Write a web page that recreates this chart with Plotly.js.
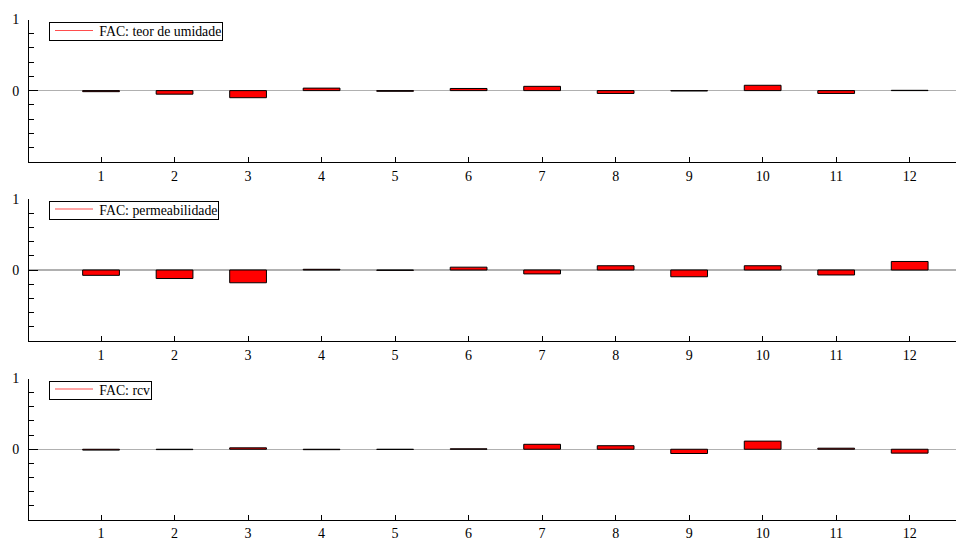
<!DOCTYPE html>
<html>
<head>
<meta charset="utf-8">
<script src="https://cdn.plot.ly/plotly-3.0.1.min.js"></script>
<style>html,body{margin:0;padding:0;background:#fff}#chart{width:956px;height:541px}</style>
</head>
<body>
<div id="chart"></div>
<script>
const lags = [1,2,3,4,5,6,7,8,9,10,11,12];
const xTickLabels = ['1','2','3','4','5','6','7','8','9','10','11','12'];
const facUmidade = [-0.015,-0.05,-0.1,0.035,-0.01,0.03,0.06,-0.04,-0.005,0.075,-0.04,0.004];
const facPermeabilidade = [-0.075,-0.12,-0.18,0.01,-0.005,0.04,-0.055,0.06,-0.095,0.06,-0.07,0.12];
const facRcv = [-0.012,-0.005,0.02,-0.006,-0.003,0.006,0.07,0.05,-0.06,0.115,0.015,-0.055];
const seriesNames = ['FAC: teor de umidade','FAC: permeabilidade','FAC: rcv'];
const yTickVals = [0,1];
const yTickText = ['0','1'];

const series = [facUmidade, facPermeabilidade, facRcv];
const FONT = '"Liberation Serif", "Times New Roman", Times, serif';
const W = 956, H = 541, L = 29;
const PW = W - L;
const panels = [[19.5,161.7],[199,341],[378.5,520]];
const legendTops = [22,200.5,380.5];
const px = v => (v - L) / PW;
const py = v => 1 - v / H;

const traces = [];
const annotations = [];
const shapes = [];
const layout = {
  width:W, height:H,
  margin:{l:L,r:0,t:0,b:0},
  paper_bgcolor:'#fff', plot_bgcolor:'#fff',
  font:{family:FONT,size:14,color:'#000'},
  showlegend:false, bargap:0.5,
  annotations:annotations, shapes:shapes
};
series.forEach((vals,i)=>{
  const sfx = i===0 ? '' : String(i+1);
  traces.push({
    type:'bar', x:lags, y:vals, xaxis:'x'+sfx, yaxis:'y'+sfx, width:0.5,
    marker:{color:'#ff0000', line:{color:'#000', width:1}},
    name:seriesNames[i], hoverinfo:'skip'
  });
  const [top,bot] = panels[i];
  layout['xaxis'+sfx] = {
    domain:[0,1], range:[0.02,12.63], anchor:'y'+sfx,
    tickvals:lags, ticktext:xTickLabels, ticks:'inside', ticklen:5, tickcolor:'#000',
    showline:true, linecolor:'#000', linewidth:1, showgrid:false, zeroline:false,
    ticklabelstandoff: i===2 ? 0 : 1, tickfont:{family:FONT,size:14,color:'#000'}
  };
  layout['yaxis'+sfx] = {
    domain:[py(bot), py(top)], range:[-1,1], anchor:'x'+sfx,
    tickvals:yTickVals, ticktext:yTickText, ticks:'inside', ticklen:9, tickcolor:'#000',
    minor:{dtick:0.2, tick0:0, ticks:'inside', ticklen:5, tickcolor:'#000', showgrid:false},
    showline:true, linecolor:'#000', linewidth:1, showgrid:false,
    zeroline:true, zerolinecolor:'#b0b0b0', zerolinewidth:1.5,
    ticklabelstandoff:6, tickfont:{family:FONT,size:14,color:'#000'}
  };
  // legend box (annotation with border) + legend line sample
  const lt = legendTops[i];
  annotations.push({
    xref:'paper', yref:'paper', x:px(49), y:py(lt), xanchor:'left', yanchor:'top',
    text:'\u00a0'.repeat(14) + seriesNames[i], showarrow:false, align:'left',
    font:{family:FONT,size:13.8,color:'#000'},
    bgcolor:'rgba(0,0,0,0)', bordercolor:'#000', borderwidth:1, borderpad:1
  });
  shapes.push({
    type:'line', xref:'paper', yref:'paper', layer:'above',
    x0:px(55), x1:px(93), y0:py(lt+8.5), y1:py(lt+8.5),
    line:{color:'#ff4d4d', width:1.2}
  });
});
Plotly.newPlot('chart', traces, layout, {staticPlot:true, displayModeBar:false});
</script>
</body>
</html>
